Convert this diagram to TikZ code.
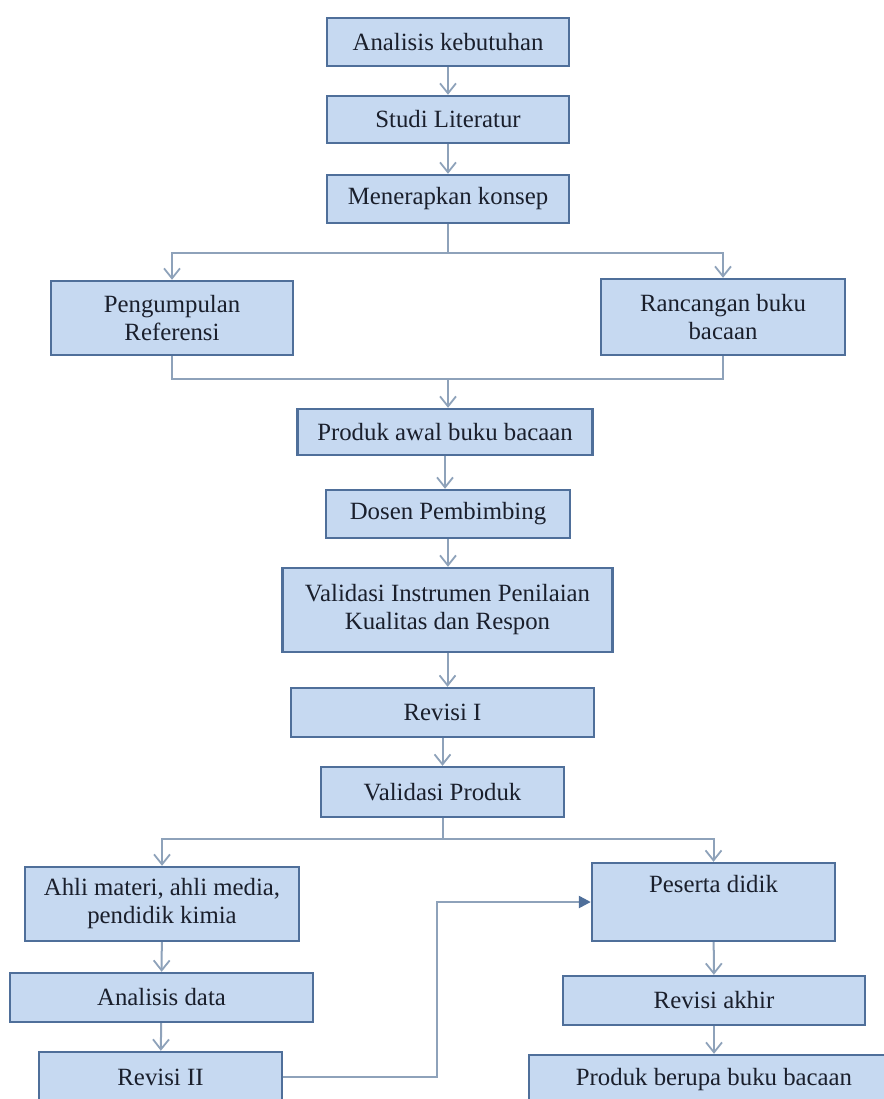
\documentclass[tikz,border=0pt]{standalone}
\usepackage{fontspec}
\setmainfont{Liberation Serif}
\usetikzlibrary{arrows.meta,calc}
\definecolor{boxfill}{HTML}{C6D9F1}
\definecolor{boxline}{HTML}{4F6F9A}
\definecolor{linkgray}{HTML}{8EA2BA}
\definecolor{txt}{HTML}{1A1F2C}
\begin{document}
\begin{tikzpicture}[x=0.5pt,y=-0.5pt,
  stepbox/.style={rectangle,draw=boxline,line width=1.2pt,fill=boxfill,
    text=txt,align=center,inner sep=0pt,font=\fontsize{12.4}{14}\selectfont},
  link/.style={draw=linkgray,line width=1pt},
  flow/.style={link,-{Straight Barb[length=5pt,width=8pt,line width=0.9pt]}},
  push/.style={draw=linkgray,line width=1.2pt,-{Triangle[length=6pt,width=6pt,color=boxline]}}]

       \useasboundingbox (0,0) rectangle (884,1099);
       \clip (0,0) rectangle (884,1099);

       \node[stepbox,minimum width=121pt,minimum height=24pt] (analisis) at (448,42) {Analisis kebutuhan};
       \node[stepbox,minimum width=121pt,minimum height=23.5pt] (studi) at (448,119.5) {Studi Literatur};
       \node[stepbox,minimum width=121pt,minimum height=24pt] (konsep) at (448,199) {Menerapkan konsep};
       \node[stepbox,minimum width=121pt,minimum height=37pt] (referensi) at (172,318) {Pengumpulan\\Referensi};
       \node[stepbox,minimum width=122pt,minimum height=38pt] (rancangan) at (723,317) {Rancangan buku\\bacaan};
       \node[stepbox,minimum width=147.5pt,minimum height=23pt] (awal) at (445,432) {Produk awal buku bacaan};
       \node[stepbox,minimum width=122pt,minimum height=24pt] (dosen) at (448,514) {Dosen Pembimbing};
       \node[stepbox,minimum width=165pt,minimum height=42pt] (instrumen) at (447.5,610) {Validasi Instrumen Penilaian\\Kualitas dan Respon};
       \node[stepbox,minimum width=151.5pt,minimum height=24.5pt] (revisi1) at (442.5,712.5) {Revisi I};
       \node[stepbox,minimum width=121.5pt,minimum height=25pt] (valprod) at (442.5,792) {Validasi Produk};
       \node[stepbox,minimum width=137pt,minimum height=37pt] (ahli) at (162,904) {Ahli materi, ahli media,\\pendidik kimia};
       \node[stepbox,minimum width=121.5pt,minimum height=39pt] (peserta) at (713.5,902) {Peserta didik\\\strut};
       \node[stepbox,minimum width=151.5pt,minimum height=24.5pt] (anadata) at (161.5,997.5) {Analisis data};
       \node[stepbox,minimum width=121.5pt,minimum height=25pt] (revisi2) at (160.5,1077) {Revisi II};
       \node[stepbox,minimum width=151pt,minimum height=24.5pt] (revakhir) at (714,1000.5) {Revisi akhir};
       \node[stepbox,minimum width=185pt,minimum height=25pt] (hasil) at (714,1080) {Produk berupa buku bacaan};

       \draw[flow] (analisis) to (studi);
       \draw[flow] (studi) to (konsep);

       \draw[link] (konsep.south) to ++(0,29) coordinate (cabang1);
       \draw[flow] (cabang1) -| (referensi.north);
       \draw[flow] (cabang1) -| (rancangan.north);

       \draw[link] (referensi.south) |- ($(cabang1)+(0,126)$) coordinate (gabung) -| (rancangan.south);
       \draw[flow] (gabung) to (gabung |- awal.north);

       \draw[flow] (awal.south) to (awal.south |- dosen.north);
       \draw[flow] (dosen.south) to (dosen.south |- instrumen.north);
       \draw[flow] (instrumen.south) to (instrumen.south |- revisi1.north);
       \draw[flow] (revisi1.south) to (revisi1.south |- valprod.north);

       \draw[link] (valprod.south) to ++(0,21) coordinate (cabang2);
       \draw[flow] (cabang2) -| (ahli.north);
       \draw[flow] (cabang2) -| (peserta.north);

       \draw[flow] (ahli) to (anadata);
       \draw[flow] (anadata) to (revisi2);
       \draw[flow] (peserta) to (revakhir);
       \draw[flow] (revakhir) to (hasil);

       \draw[push] (revisi2.east) -| ($(revisi2.east)!0.5!(peserta.west)$) |- (peserta.west);
     \end{tikzpicture}
\end{document}
